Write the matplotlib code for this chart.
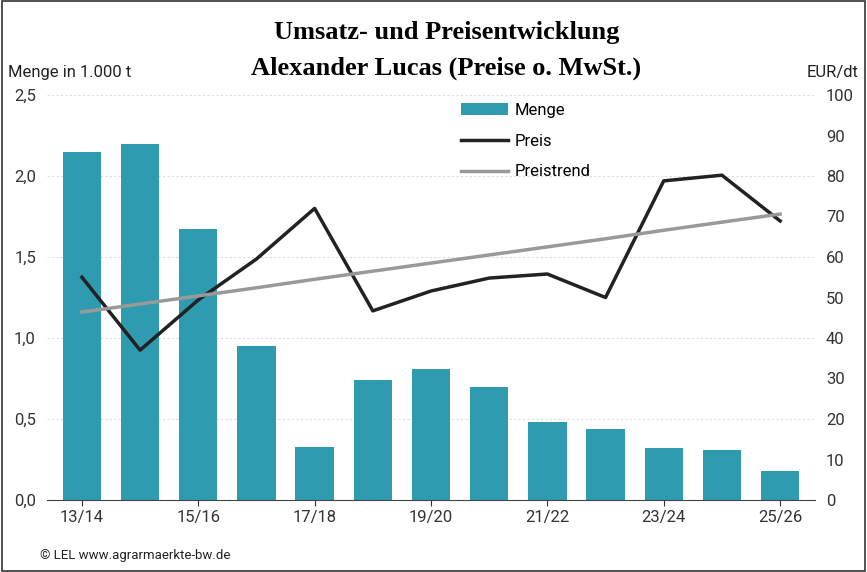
import matplotlib
matplotlib.use("Agg")
import matplotlib.pyplot as plt
from matplotlib.patches import Rectangle

plt.rcParams['font.family'] = ['Roboto', 'DejaVu Sans']

seasons = ["13/14","14/15","15/16","16/17","17/18","18/19","19/20","20/21","21/22","22/23","23/24","24/25","25/26"]
menge = [2.15, 2.20, 1.67, 0.95, 0.33, 0.74, 0.81, 0.70, 0.48, 0.44, 0.32, 0.31, 0.18]
preis = [55.0, 37.0, 49.4, 59.5, 72.0, 46.7, 51.6, 54.8, 55.8, 50.0, 78.8, 80.2, 68.9]
trend = [46.4, 48.4, 50.4, 52.4, 54.5, 56.5, 58.5, 60.5, 62.5, 64.5, 66.6, 68.6, 70.6]

W, H = 867, 572
fig = plt.figure(figsize=(W/100, H/100), dpi=100)
ax = fig.add_axes([47/W, 1-500/H, (815-47)/W, (500-95)/H])
x = list(range(len(seasons)))
ax.bar(x, menge, width=0.66, color="#2e9bb0", label="Menge", zorder=2)
ax.set_ylim(0, 2.5)
ax.set_xlim(-0.6, 12.6)
ax.set_yticks([0, 0.5, 1.0, 1.5, 2.0, 2.5])
ax.set_yticklabels(["0,0", "0,5", "1,0", "1,5", "2,0", "2,5"])
ax.set_xticks(x[::2])
ax.set_xticklabels(seasons[::2])
ax.grid(axis='y', color="#dddddd", linestyle=(0, (2, 2)), lw=0.8, zorder=0)
for s in ["top", "right", "left"]:
    ax.spines[s].set_visible(False)
ax.spines["bottom"].set_color("#444444")
ax.tick_params(axis='y', length=0, labelsize=12, colors="#333333", pad=8)
ax.tick_params(axis='x', length=4, labelsize=12, colors="#333333")

ax2 = ax.twinx()
ax2.set_ylim(0, 100)
ax2.set_yticks(range(0, 101, 10))
for s in ["top", "right", "left", "bottom"]:
    ax2.spines[s].set_visible(False)
ax2.tick_params(axis='y', length=0, labelsize=12, colors="#333333", pad=8)
ax2.plot(x, preis, color="#222222", lw=2.5, label="Preis", zorder=3)
ax2.plot(x, trend, color="#999999", lw=2.5, label="Preistrend", zorder=3)

h1, l1 = ax.get_legend_handles_labels()
h2, l2 = ax2.get_legend_handles_labels()
ax2.legend(h1 + h2, l1 + l2, loc="upper left", bbox_to_anchor=(0.52, 1.018), frameon=False,
           fontsize=12, handlelength=2.8, labelspacing=0.95, handletextpad=0.4)

fig.text(0.515, 1-33/H, "Umsatz- und Preisentwicklung", ha="center", va="center",
         family="Liberation Serif", weight="bold", fontsize=19)
fig.text(0.515, 1-68/H, "Alexander Lucas (Preise o. MwSt.)", ha="center", va="center",
         family="Liberation Serif", weight="bold", fontsize=19)
fig.text(8/W, 1-72/H, "Menge in 1.000 t", fontsize=12, va="center", color="#222222")
fig.text(858/W, 1-72/H, "EUR/dt", fontsize=12, va="center", ha="right", color="#222222")
fig.text(40/W, 1-555/H, "© LEL www.agrarmaerkte-bw.de", fontsize=9.5, va="center", color="#222222")
fig.patches.append(Rectangle((0.002, 0.002), 0.996, 0.996, transform=fig.transFigure,
                             fill=False, edgecolor="#333333", lw=1.2))
fig.savefig("out.png", dpi=100)
